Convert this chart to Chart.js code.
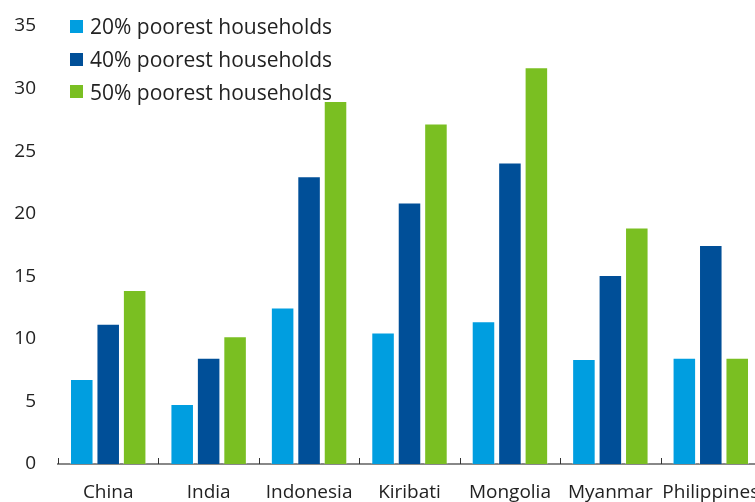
<!DOCTYPE html>
<html>
<head>
<meta charset="utf-8">
<script src="https://cdn.jsdelivr.net/npm/chart.js@4"></script>
<style>
  html, body { margin: 0; padding: 0; background: #fff; overflow: hidden; }
  #wrap { position: relative; width: 761px; height: 502px; }
  #legend { position: absolute; left: 70px; top: 10px; font-family: 'Open Sans', sans-serif; font-size: 21px; color: #222; }
  #legend div { display: flex; align-items: center; height: 32.8px; white-space: nowrap; }
  #legend span.box { width: 13px; height: 13px; margin-right: 7px; display: inline-block; }
</style>
</head>
<body>
<div id="wrap">
  <canvas id="chart" width="761" height="502"></canvas>
  <div id="legend"></div>
</div>
<script>
// Dados
const countries = ['China', 'India', 'Indonesia', 'Kiribati', 'Mongolia', 'Myanmar', 'Philippines'];
const poorest20 = [6.8, 4.8, 12.5, 10.5, 11.4, 8.4, 8.5];
const poorest40 = [11.2, 8.5, 23.0, 20.9, 24.1, 15.1, 17.5];
const poorest50 = [13.9, 10.2, 29.0, 27.2, 31.7, 18.9, 8.5];
const seriesNames = ['20% poorest households', '40% poorest households', '50% poorest households'];
const yTicks = [0, 5, 10, 15, 20, 25, 30, 35];

const colors = ['#009ee0', '#004f98', '#7abf22'];
const font = "'Open Sans', sans-serif";

// marcas pequenas entre categorias, para cima a partir do eixo
const boundaryTicks = {
    id: 'boundaryTicks',
    afterDatasetsDraw(chart) {
        const x = chart.scales.x, ctx = chart.ctx;
        const bottom = chart.chartArea.bottom;
        ctx.save();
        ctx.strokeStyle = '#333';
        ctx.lineWidth = 1;
        for (let i = 0; i < countries.length; i++) {
            const px = i === 0
                ? x.getPixelForValue(0) - (x.getPixelForValue(1) - x.getPixelForValue(0)) / 2
                : (x.getPixelForValue(i) + x.getPixelForValue(i - 1)) / 2;
            ctx.beginPath();
            ctx.moveTo(Math.round(px) + 0.5, bottom - 6);
            ctx.lineTo(Math.round(px) + 0.5, bottom);
            ctx.stroke();
        }
        ctx.restore();
    }
};

const chart = new Chart(document.getElementById('chart'), {
    type: 'bar',
    data: {
        labels: countries,
        datasets: [poorest20, poorest40, poorest50].map((d, i) => ({
            label: seriesNames[i],
            data: d,
            backgroundColor: colors[i],
            borderColor: 'rgba(255,255,255,0.35)',
            borderWidth: 1,
            categoryPercentage: 0.79,
            barPercentage: 0.89
        }))
    },
    options: {
        responsive: false,
        animation: false,
        layout: { padding: { top: 26, left: 0, right: 0, bottom: 0 } },
        plugins: { legend: { display: false }, tooltip: { enabled: false } },
        scales: {
            x: {
                grid: { display: false, drawTicks: false },
                border: { color: '#888', width: 2 },
                ticks: { color: '#222', font: { family: font, size: 19 }, padding: 17, maxRotation: 0, autoSkip: false },
                afterFit: s => { s.height = 38; s.paddingLeft = 0; s.paddingRight = 0; }
            },
            y: {
                min: 0, max: 35,
                afterBuildTicks: s => { s.ticks = yTicks.map(v => ({ value: v })); },
                grid: { display: false, drawTicks: false },
                border: { display: false },
                ticks: { color: '#222', font: { family: font, size: 19 }, padding: 22 },
                afterFit: s => { s.width = 58; s.paddingTop = 0; s.paddingBottom = 0; }
            }
        }
    },
    plugins: [boundaryTicks]
});

// legenda em coluna sobre a área do gráfico
const legend = document.getElementById('legend');
chart.data.datasets.forEach(ds => {
    const row = document.createElement('div');
    row.innerHTML = `<span class="box" style="background:${ds.backgroundColor}"></span>${ds.label}`;
    legend.appendChild(row);
});
</script>
</body>
</html>
